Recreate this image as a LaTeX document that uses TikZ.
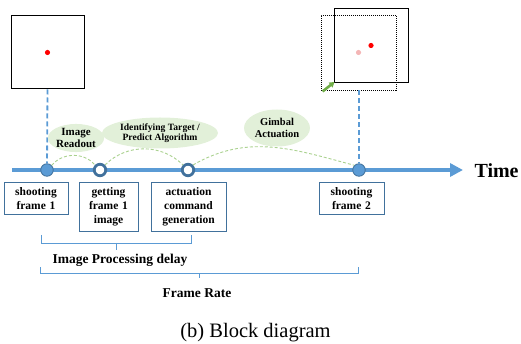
\documentclass[tikz,border=0pt]{standalone}
\usepackage{fontspec}
\setmainfont{Liberation Serif}
\usetikzlibrary{arrows.meta,shapes.geometric}
\definecolor{tlblue}{HTML}{5B9BD5}
\definecolor{ringblue}{HTML}{41719C}
\definecolor{leaf}{HTML}{E2F0D9}
\definecolor{arcgreen}{HTML}{A9D18E}
\definecolor{arrowgreen}{HTML}{70AD47}
\definecolor{pinkdot}{HTML}{F4B6B6}

\begin{document}
\begin{tikzpicture}[x=1pt,y=-1pt,
  frame/.style={draw,line width=1pt,minimum size=73pt,inner sep=0pt},
  shot/.style={circle,draw=ringblue,fill=tlblue,line width=0.8pt,minimum size=12.5pt,inner sep=0pt},
  ring/.style={circle,draw=ringblue,fill=white,line width=2.8pt,minimum size=11.5pt,inner sep=0pt},
  cloud/.style={ellipse,fill=leaf,inner sep=0pt,align=center,font=\bfseries},
  stepbox/.style={draw=ringblue,line width=0.9pt,anchor=north,align=center,inner xsep=2pt,inner ysep=5pt,
    font=\fontsize{11.5}{14}\selectfont\bfseries},
  drop/.style={tlblue,line width=1.8pt,dash pattern=on 5pt off 3pt},
  link/.style={arcgreen,line width=0.9pt,dash pattern=on 3pt off 2pt},
  bracket/.style={tlblue,line width=0.8pt}]
\useasboundingbox (0,0) rectangle (521,344);

% frames
\node[frame] (f1) at (47.5,52.5) {};
\fill[red] (f1.center) circle (2.6pt);
\node[frame,draw=black,dash pattern=on 1pt off 1pt,line width=0.9pt,minimum size=75pt] (old) at (358.5,52.5) {};
\node[frame,minimum size=74pt] (new) at (371,45.5) {};
\fill[pinkdot] (old.center) circle (2.6pt);
\fill[red] (new.center) circle (2.6pt);
\draw[arrowgreen,line width=2.6pt,-{Triangle[length=5pt,width=6pt]}] ([xshift=2pt,yshift=-1pt]old.south west) -- ([xshift=1pt,yshift=1pt]new.south west);

% time axis
\coordinate (start) at (12,170);
\coordinate (end) at (463,170);
\draw[tlblue,line width=4pt,-{Triangle[length=13pt,width=13pt]}] (start) -- (end);
\node[anchor=west,font=\fontsize{20}{24}\selectfont\bfseries] (time) at (471,171) {Time};
\node[shot] (t1) at (47,170) {};
\node[ring] (t2) at (100,170) {};
\node[ring] (t3) at (188,170) {};
\node[shot] (t4) at (359,170) {};
\draw[drop] (f1.south) -- (t1);
\draw[drop] (old.south -| t4) -- (t4);

% phases
\node[cloud,minimum width=44pt,minimum height=26pt,font=\fontsize{11}{12.5}\selectfont\bfseries] (e1) at (76,138) {Image\\Readout};
\node[cloud,minimum width=116pt,minimum height=31pt,font=\fontsize{9.6}{10.5}\selectfont\bfseries] (e2) at (160,133) {Identifying Target /\\Predict Algorithm};
\node[cloud,minimum width=66pt,minimum height=37pt,font=\fontsize{10.5}{12.5}\selectfont\bfseries] (e3) at (277,128) {Gimbal\\Actuation};
\draw[link] (t1.north east) to[out=50,in=130] (t2.north west);
\draw[link] (t2.north east) to[out=45,in=135] (t3.north west);
\draw[link] (t3.north east) to[out=30,in=165] (t4.north west);

% steps
\node[stepbox,text width=60pt] (b1) at (36,182) {shooting\\frame 1};
\node[stepbox,text width=55pt] (b2) at (108.5,182) {getting\\frame 1\\image};
\node[stepbox,text width=71pt] (b3) at (188.5,182) {actuation\\command\\generation};
\node[stepbox,text width=61pt] (b4) at (351.5,182) {shooting\\frame 2};

% brackets
\node[font=\fontsize{13.5}{15}\selectfont\bfseries] (ipd) at (120,260) {Image Processing delay};
\draw[bracket] (41,235) -- (41,243) -- (191,243) -- (191,235);
\draw[bracket] (116,243) -- (116,250);
\node[font=\fontsize{13.5}{15}\selectfont\bfseries] (fr) at (197,293) {Frame Rate};
\draw[bracket] (40,267) -- (40,273) -- (358,273) -- (358,267);
\draw[bracket] (199,273) -- (199,278);

\node[font=\fontsize{20.5}{23}\selectfont] (cap) at (255.5,333) {(b) Block diagram};
\end{tikzpicture}
\end{document}
